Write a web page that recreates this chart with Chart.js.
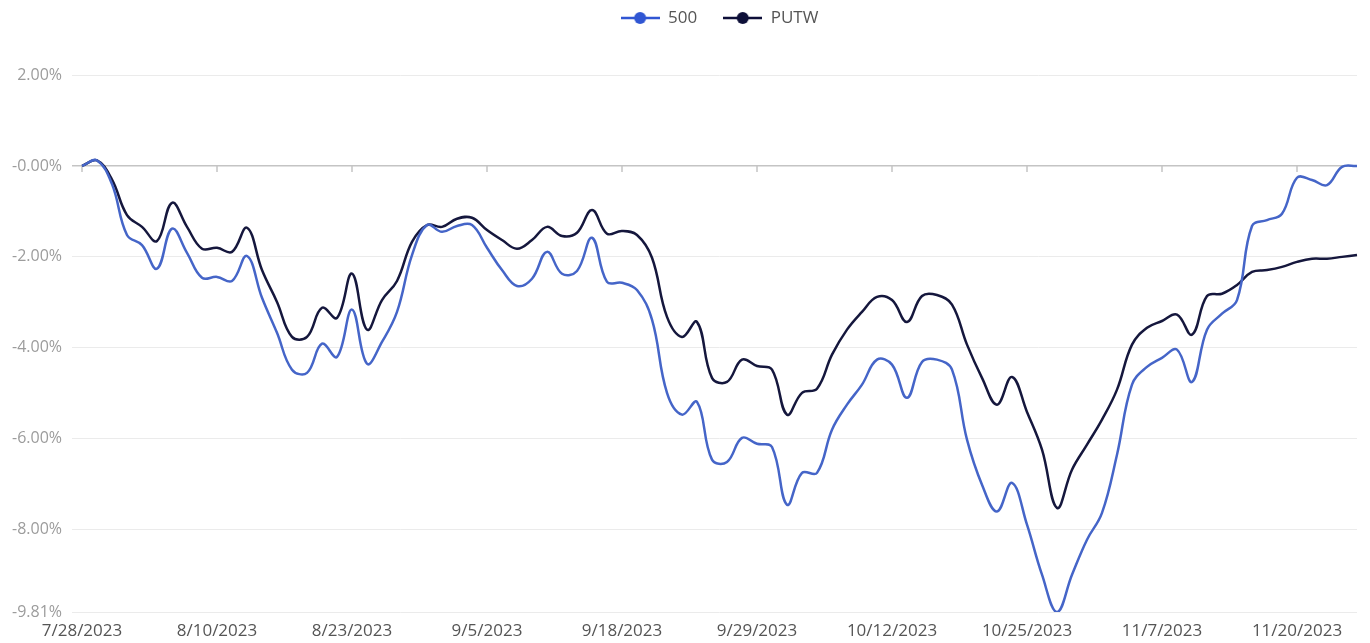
<!DOCTYPE html>
<html>
<head>
<meta charset="utf-8">
<script src="https://cdn.jsdelivr.net/npm/chart.js@4"></script>
<style>
    body { margin: 0; background: #fff; }
    #wrap { position: relative; width: 1370px; height: 643px; }
</style>
</head>
<body>
<div id="wrap"><canvas id="drawdownChart"></canvas></div>
<script>

//Trading days shown on the x axis
let dates = [
    '7/28/2023', '7/31/2023', '8/1/2023', '8/2/2023', '8/3/2023', '8/4/2023', '8/7/2023', '8/8/2023', '8/9/2023',
    '8/10/2023', '8/11/2023', '8/14/2023', '8/15/2023', '8/16/2023', '8/17/2023', '8/18/2023', '8/21/2023', '8/22/2023',
    '8/23/2023', '8/24/2023', '8/25/2023', '8/28/2023', '8/29/2023', '8/30/2023', '8/31/2023', '9/1/2023', '9/4/2023',
    '9/5/2023', '9/6/2023', '9/7/2023', '9/8/2023', '9/11/2023', '9/12/2023', '9/13/2023', '9/14/2023', '9/15/2023',
    '9/18/2023', '9/19/2023', '9/20/2023', '9/21/2023', '9/22/2023', '9/25/2023', '9/26/2023', '9/27/2023', '9/28/2023',
    '9/29/2023', '10/2/2023', '10/3/2023', '10/4/2023', '10/5/2023', '10/6/2023', '10/9/2023', '10/10/2023', '10/11/2023',
    '10/12/2023', '10/13/2023', '10/16/2023', '10/17/2023', '10/18/2023', '10/19/2023', '10/20/2023', '10/23/2023', '10/24/2023',
    '10/25/2023', '10/26/2023', '10/27/2023', '10/30/2023', '10/31/2023', '11/1/2023', '11/2/2023', '11/3/2023', '11/6/2023',
    '11/7/2023', '11/8/2023', '11/9/2023', '11/10/2023', '11/13/2023', '11/14/2023', '11/15/2023', '11/16/2023', '11/17/2023',
    '11/20/2023', '11/21/2023', '11/22/2023', '11/23/2023', '11/24/2023'
]

//Drawdown in percent
let sp500 = [
    0, 0.12, -0.4, -1.52, -1.74, -2.26, -1.38, -1.91, -2.46,
    -2.44, -2.53, -1.98, -2.90, -3.67, -4.48, -4.55, -3.91, -4.20,
    -3.16, -4.35, -3.87, -3.21, -1.96, -1.30, -1.45, -1.32, -1.30,
    -1.80, -2.29, -2.64, -2.48, -1.89, -2.37, -2.31, -1.58, -2.55,
    -2.57, -2.73, -3.38, -4.99, -5.47, -5.19, -6.46, -6.51, -5.98,
    -6.11, -6.18, -7.45, -6.75, -6.75, -5.80, -5.25, -4.81, -4.26,
    -4.37, -5.10, -4.31, -4.26, -4.48, -6.02, -7.01, -7.60, -6.97,
    -7.89, -8.99, -9.81, -8.99, -8.22, -7.63, -6.35, -4.81, -4.42,
    -4.22, -4.04, -4.75, -3.60, -3.25, -2.95, -1.32, -1.19, -1.05,
    -0.26, -0.31, -0.42, -0.02, 0
]

let putw = [
    0, 0.12, -0.3, -1.08, -1.34, -1.65, -0.81, -1.34, -1.82,
    -1.80, -1.89, -1.36, -2.29, -2.99, -3.76, -3.76, -3.12, -3.34,
    -2.37, -3.60, -2.95, -2.53, -1.67, -1.30, -1.34, -1.16, -1.14,
    -1.41, -1.63, -1.82, -1.63, -1.34, -1.54, -1.47, -0.97, -1.49,
    -1.43, -1.52, -2.02, -3.32, -3.76, -3.43, -4.66, -4.75, -4.26,
    -4.40, -4.48, -5.47, -4.99, -4.90, -4.15, -3.60, -3.21, -2.88,
    -2.95, -3.43, -2.86, -2.84, -3.05, -3.93, -4.66, -5.25, -4.64,
    -5.41, -6.24, -7.52, -6.68, -6.13, -5.58, -4.92, -3.93, -3.56,
    -3.41, -3.27, -3.71, -2.86, -2.81, -2.62, -2.33, -2.29, -2.22,
    -2.11, -2.04, -2.04, -2.00, -1.96
]

//Y axis ticks and the text printed next to them
let yTickValues = [2, 0, -2, -4, -6, -8, -9.81]
let yTickLabels = ['2.00%', '-0.00%', '-2.00%', '-4.00%', '-6.00%', '-8.00%', '-9.81%']

let labelEvery = 9 //one date label every 9 trading days

Chart.defaults.font.family = "'Open Sans', sans-serif"
Chart.defaults.font.size = 16

//Legend marker: short line with a dot in the middle
function legendMarker(color) {
    let c = document.createElement('canvas')
    c.width = 39
    c.height = 14
    let g = c.getContext('2d')
    g.strokeStyle = color
    g.lineWidth = 2.5
    g.beginPath()
    g.moveTo(0, 7)
    g.lineTo(39, 7)
    g.stroke()
    g.fillStyle = color
    g.beginPath()
    g.arc(19.5, 7, 6, 0, Math.PI * 2)
    g.fill()
    return c
}

//Extra room under the legend
let legendMargin = {
    id: 'legendMargin',
    beforeInit(chart) {
        let fit = chart.legend.fit
        chart.legend.fit = function () {
            fit.bind(chart.legend)()
            this.height += 38.5
        }
    }
}

//Little tick marks hanging under the zero line
let zeroTicks = {
    id: 'zeroTicks',
    beforeDatasetsDraw(chart) {
        let xs = chart.scales.x
        let y0 = chart.scales.y.getPixelForValue(0)
        let ctx = chart.ctx
        ctx.save()
        ctx.strokeStyle = '#c4c4c4'
        ctx.lineWidth = 1.5
        xs.ticks.forEach(function (t, i) {
            let px = xs.getPixelForTick(i)
            ctx.beginPath()
            ctx.moveTo(px, y0)
            ctx.lineTo(px, y0 + 6)
            ctx.stroke()
        })
        ctx.restore()
    }
}

let ctx = document.getElementById('drawdownChart').getContext('2d')

let drawdownChart = new Chart(ctx, {
    type: 'line',
    data: {
        labels: dates,
        datasets: [
            {
                label: '500',
                data: sp500,
                borderColor: '#4565c8',
                borderWidth: 2.5,
                pointRadius: 0,
                pointHoverRadius: 0,
                pointStyle: legendMarker('#3056d3'),
                tension: 0.4
            },
            {
                label: 'PUTW',
                data: putw,
                borderColor: '#15173d',
                borderWidth: 2.5,
                pointRadius: 0,
                pointHoverRadius: 0,
                pointStyle: legendMarker('#0d0f38'),
                tension: 0.4
            }
        ]
    },
    options: {
        responsive: true,
        maintainAspectRatio: false,
        animation: false,
        layout: {
            padding: { top: -16.5, right: 13, left: 0, bottom: 0 }
        },
        plugins: {
            legend: {
                position: 'top',
                fullSize: false,
                labels: {
                    usePointStyle: true,
                    pointStyleWidth: 39,
                    padding: 26,
                    color: '#555',
                    font: { size: 17 }
                }
            },
            tooltip: { enabled: false }
        },
        scales: {
            x: {
                grid: { display: false, drawTicks: false },
                border: { display: false },
                afterBuildTicks: function (scale) {
                    scale.ticks = scale.ticks.filter(t => t.value % labelEvery === 0)
                },
                afterFit: function (scale) {
                    scale.height = 31
                },
                ticks: {
                    autoSkip: false,
                    maxRotation: 0,
                    minRotation: 0,
                    padding: 9,
                    color: '#555',
                    font: { size: 17 }
                }
            },
            y: {
                min: -9.81,
                max: 2,
                border: { display: false },
                grid: {
                    color: c => (c.tick && c.tick.value === 0) ? '#c4c4c4' : '#ebebeb',
                    lineWidth: c => (c.tick && c.tick.value === 0) ? 1.5 : 1,
                    tickLength: 10
                },
                afterBuildTicks: function (scale) {
                    scale.ticks = yTickValues.map(v => ({ value: v }))
                },
                afterFit: function (scale) {
                    scale.width = 82
                },
                ticks: {
                    padding: 10,
                    color: '#9c9c9c',
                    font: { size: 16 },
                    callback: function (value) {
                        let i = yTickValues.indexOf(value)
                        return i >= 0 ? yTickLabels[i] : ''
                    }
                }
            }
        }
    },
    plugins: [legendMargin, zeroTicks]
})

</script>
</body>
</html>
